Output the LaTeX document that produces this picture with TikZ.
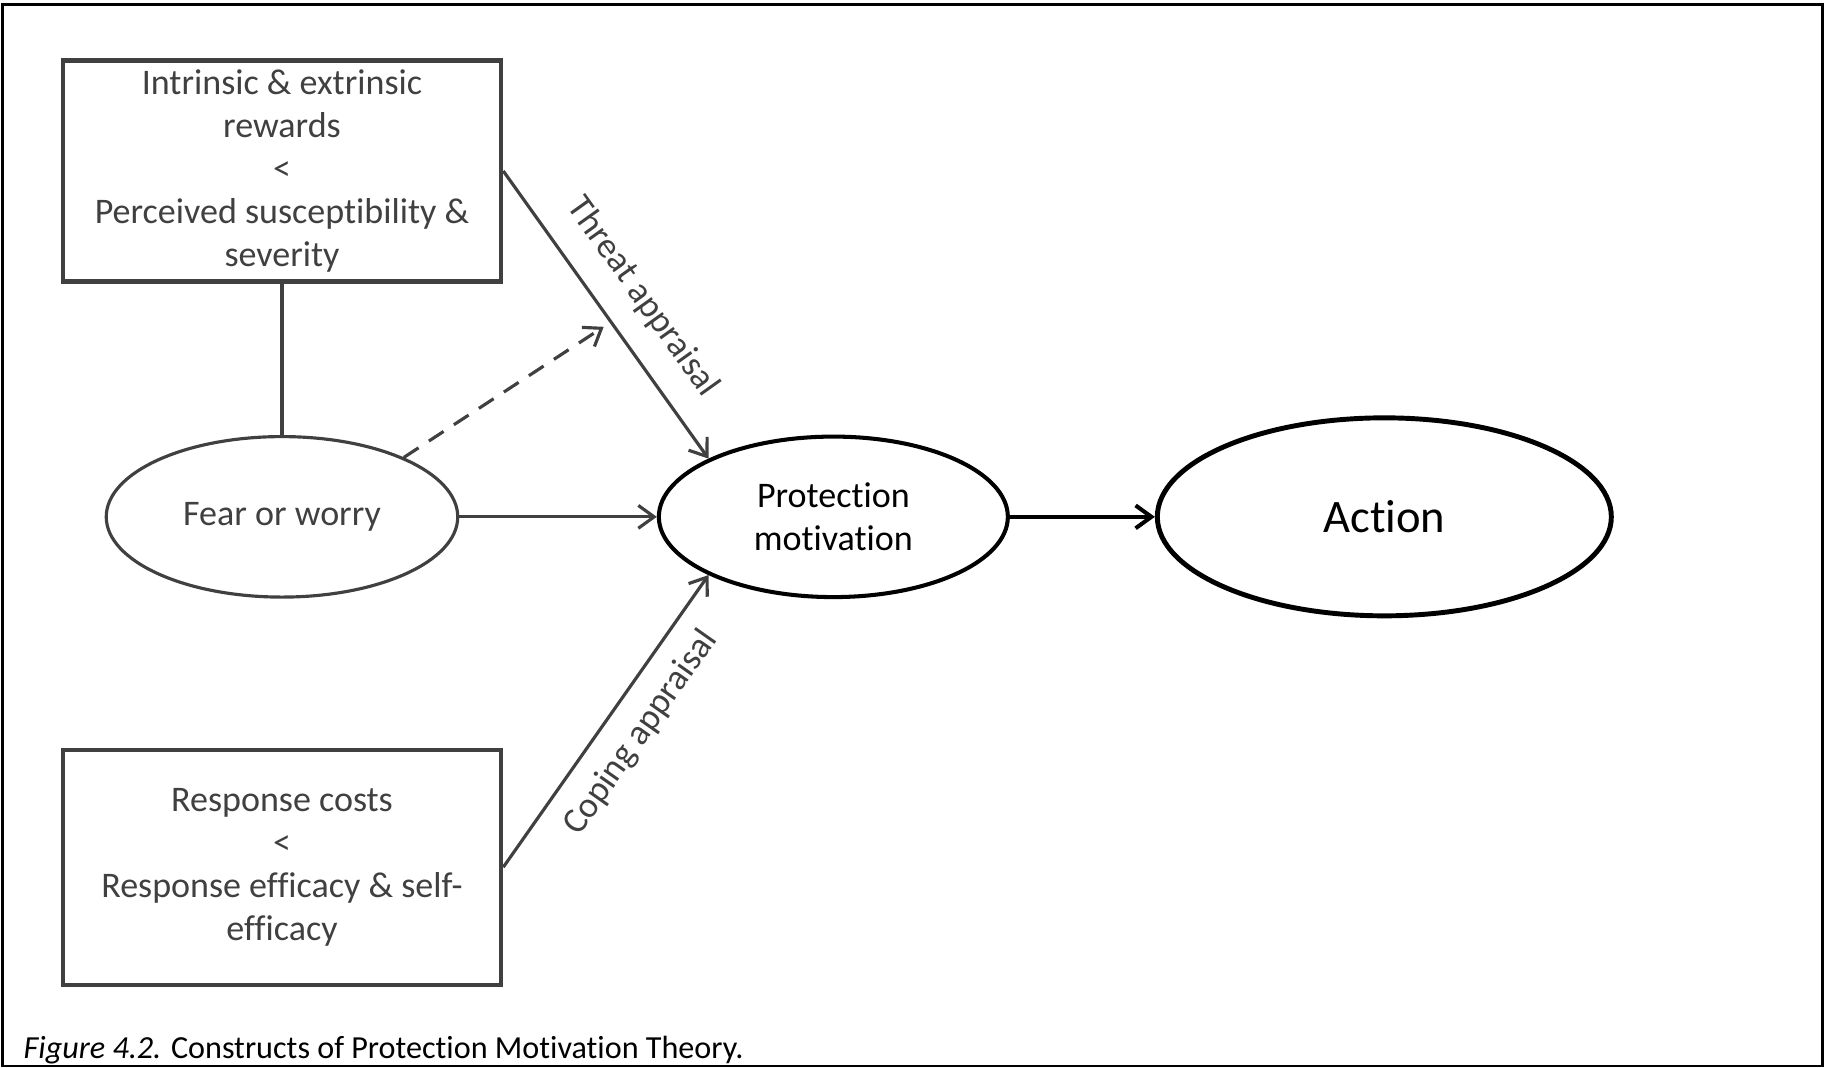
\documentclass[tikz,border=0pt]{standalone}
\usepackage{fontspec}
\setmainfont{Carlito}[Ligatures=CommonOff]
\usetikzlibrary{positioning, shapes.geometric, arrows.meta}
\definecolor{linegray}{HTML}{404040}

\begin{document}
\begin{tikzpicture}[
    font=\fontsize{20.5}{24.6}\selectfont,
    box/.style={draw=linegray, line width=2.3pt, text=linegray, align=center, minimum width=8.77cm, inner sep=0pt},
    oval/.style={draw, ellipse, inner sep=0pt, align=center},
    arr/.style={linegray, line width=1.8pt, -{Straight Barb[length=9pt, width=13pt]}},
    lbl/.style={sloped, text=linegray}
]
\useasboundingbox (0,0) rectangle (36.5,21.36);
\draw[line width=1.2pt] (0.05,0.04) rectangle (36.45,21.27);

   \node[box, minimum height=4.42cm] (rewards) at (5.64,17.94) {Intrinsic \& extrinsic\\rewards\\<\\Perceived susceptibility \&\\severity};
    \node[oval, draw=linegray, text=linegray, line width=1.8pt, minimum width=7.03cm, minimum height=3.21cm, below = 3.03cm of rewards] (fear) {Fear or worry};
        \node[oval, line width=2.3pt, minimum width=6.98cm, minimum height=3.21cm, right = 3.95cm of fear] (prot) {Protection\\motivation};
        \node[oval, line width=2.8pt, minimum width=9.08cm, minimum height=3.96cm, right = 2.9cm of prot, font=\fontsize{26.5}{32}\selectfont] (action) {Action};
    \node[box, minimum height=4.7cm, below = 2.98cm of fear] (costs) {Response costs\\<\\Response efficacy \& self-\\efficacy};

    \path (rewards) edge[linegray, line width=2.3pt] (fear);
    \draw[arr] (rewards.east) -- node[lbl, above=10pt, pos=0.52] {Threat appraisal} coordinate[pos=0.525] (hit) (prot.155);
    \path (fear.26) edge[arr, dash pattern=on 10pt off 7pt, shorten >=5pt] (hit);
    \path (fear) edge[arr] (prot);
    \path (costs.east) edge[arr] node[lbl, below=7pt, pos=0.53] {Coping appraisal} (prot.205);
    \path (prot) edge[arr, black, line width=2.3pt] (action);

    \node[anchor=base west, inner sep=0pt, font=\fontsize{18.3}{22}\selectfont] (caption) at (0.466,0.18) {\textit{Figure 4.2.} Constructs of Protection Motivation Theory.};

\end{tikzpicture}
\end{document}
